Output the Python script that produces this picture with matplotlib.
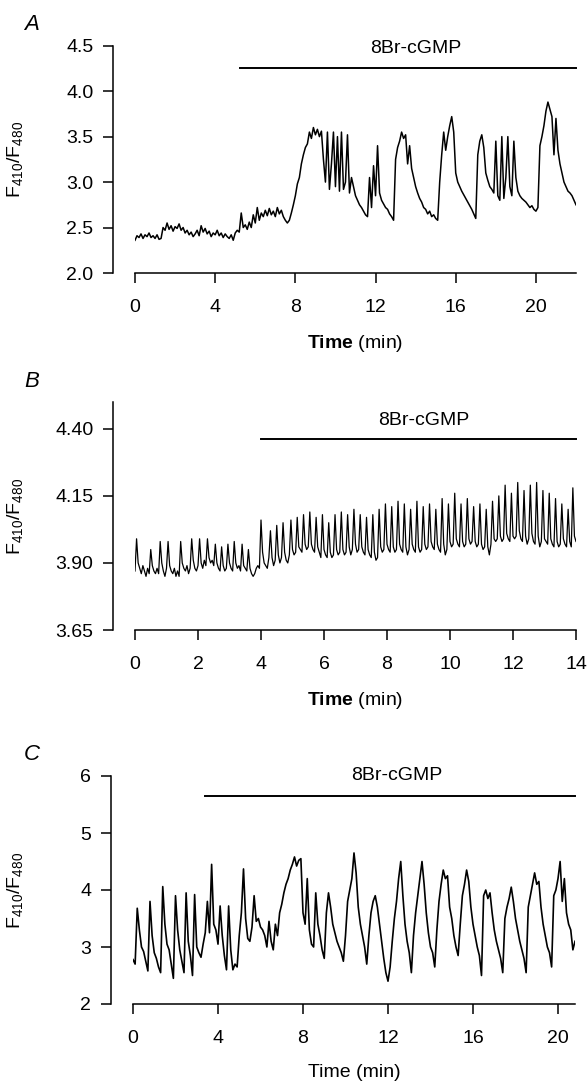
import numpy as np
import matplotlib
matplotlib.use("Agg")
import matplotlib.pyplot as plt

plt.rcParams['font.family'] = ['Liberation Sans', 'DejaVu Sans']
plt.rcParams['mathtext.fontset'] = 'custom'
plt.rcParams['mathtext.rm'] = 'Liberation Sans'
plt.rcParams['mathtext.bf'] = 'Liberation Sans:bold'
plt.rcParams['mathtext.it'] = 'Liberation Sans:italic'
plt.rcParams['mathtext.default'] = 'regular'

# Panel A: 8Br-cGMP, 0-22 min, one sample every 0.1 min
a_dt = 0.1
a_ratio = [
    2.36, 2.41, 2.39, 2.43, 2.38, 2.42, 2.40, 2.44, 2.39, 2.41, 2.38, 2.42, 2.37, 2.38,
    2.50, 2.47, 2.55, 2.48, 2.52, 2.46, 2.51, 2.49, 2.54, 2.47, 2.50, 2.44, 2.47, 2.42, 2.45, 2.40,
    2.43, 2.47, 2.41, 2.52, 2.45, 2.49, 2.43, 2.46, 2.40, 2.44, 2.42, 2.47, 2.41, 2.44, 2.39, 2.43, 2.40, 2.38, 2.42, 2.36,
    2.44, 2.47, 2.45, 2.66, 2.50, 2.53, 2.48, 2.56, 2.50, 2.64, 2.55, 2.72,
    2.58, 2.66, 2.62, 2.69, 2.63, 2.71, 2.64, 2.68, 2.62, 2.72, 2.65, 2.69, 2.62,
    2.58, 2.55, 2.58, 2.66, 2.75, 2.85, 2.98, 3.05, 3.20, 3.30, 3.38, 3.42, 3.55, 3.48, 3.60,
    3.52, 3.58, 3.50, 3.56, 3.25,
    3.00, 3.55, 2.92, 3.20, 3.55, 2.95, 3.50, 2.90, 3.55, 2.92, 3.00, 3.52, 2.88, 3.05, 2.95,
    2.85, 2.80, 2.75, 2.72, 2.68, 2.64, 2.62, 3.05, 2.72, 3.18, 2.85, 3.40, 2.88, 2.80, 2.76, 2.72, 2.70, 2.65, 2.62, 2.58,
    3.25, 3.38, 3.45, 3.55, 3.48, 3.52, 3.20, 3.40, 3.15, 3.05, 2.95, 2.88, 2.82, 2.78, 2.72, 2.70, 2.65, 2.68, 2.62, 2.64, 2.60, 2.58,
    3.00, 3.30, 3.55, 3.35, 3.50, 3.62, 3.72, 3.55, 3.10, 3.00, 2.95, 2.90, 2.86, 2.82, 2.78, 2.74, 2.70, 2.65, 2.60,
    3.30, 3.45, 3.52, 3.38, 3.10, 3.02, 2.95, 2.92, 2.88, 3.45, 2.85, 2.80, 3.50, 2.82, 3.05, 3.50, 2.95, 2.85, 3.45, 3.05,
    2.90, 2.85, 2.82, 2.80, 2.78, 2.75, 2.72, 2.74, 2.70,
    2.68, 2.72, 3.40, 3.50, 3.62, 3.78, 3.88, 3.80, 3.72, 3.30, 3.70, 3.35, 3.20, 3.10, 3.00, 2.95, 2.90, 2.88, 2.85, 2.80, 2.75,
]

# Panel B: 0-14 min, one sample every 0.05 min
b_dt = 0.05
b_ratio = [
    3.87, 3.99, 3.90, 3.88, 3.86, 3.89, 3.87,
    3.85, 3.88, 3.86, 3.95, 3.89, 3.87, 3.86,
    3.88, 3.86, 3.98, 3.90, 3.87, 3.85, 3.88,
    3.98, 3.89, 3.87, 3.86, 3.88, 3.85, 3.87,
    3.85, 3.98, 3.90, 3.88, 3.87, 3.89, 3.86,
    3.88, 3.99, 3.91, 3.88, 3.87, 3.89, 3.99,
    3.90, 3.88, 3.91, 3.89, 3.99, 3.92, 3.90,
    3.91, 3.89, 3.97, 3.90, 3.88, 3.87, 3.96,
    3.89, 3.87, 3.88, 3.97, 3.90, 3.88, 3.87,
    3.98, 3.90, 3.88, 3.89, 3.87, 3.97, 3.89,
    3.88, 3.87, 3.95, 3.88, 3.86, 3.85, 3.86,
    3.88, 3.89, 3.88, 4.06, 3.94, 3.90, 3.89,
    3.88, 3.92, 4.02, 3.92, 3.89,
    3.91, 4.04, 3.93, 3.90, 3.92,
    4.05, 3.94, 3.91, 3.90, 3.93,
    4.06, 3.95, 3.93, 3.94, 4.07,
    3.96, 3.95, 3.94, 4.08, 3.97,
    3.95, 3.96, 4.09, 3.97, 3.95,
    3.94, 4.07, 3.96, 3.94, 3.92,
    4.08, 3.95, 3.93, 3.92, 4.05,
    3.94, 3.92, 3.93, 4.08, 3.95,
    3.93, 3.94, 4.09, 3.95, 3.93,
    3.94, 4.08, 3.96, 3.93, 3.95,
    4.10, 3.97, 3.94, 3.95, 4.08,
    3.96, 3.94, 3.93, 4.07, 3.95,
    3.93, 3.92, 4.08, 3.94, 3.91,
    3.92, 4.10, 3.96, 3.94, 3.95,
    4.12, 3.97, 3.95, 3.94,
    4.11, 3.96, 3.94, 3.95,
    4.13, 3.97, 3.95, 3.94,
    4.12, 3.96, 3.93, 3.95,
    4.10, 3.97, 3.95, 3.94,
    4.13, 3.96, 3.94, 3.95,
    4.11, 3.97, 3.95, 3.96,
    4.12, 3.98, 3.96, 3.95,
    4.10, 3.97, 3.95, 3.94,
    4.14, 3.97, 3.93, 3.95,
    4.12, 3.98, 3.96, 3.97,
    4.16, 3.99, 3.97, 3.96,
    4.12, 3.98, 3.96, 3.97,
    4.14, 3.99, 3.97, 3.98,
    4.11, 3.98, 3.96, 3.97,
    4.12, 3.97, 3.95, 3.96,
    4.10, 3.96, 3.93, 3.97,
    4.13, 3.99, 3.98, 3.99,
    4.15, 4.00, 3.98, 3.99,
    4.19, 4.01, 3.99, 3.98,
    4.16, 4.00, 3.99, 4.00,
    4.20, 4.02, 3.99, 3.98,
    4.17, 4.00, 3.97, 3.99,
    4.19, 4.01, 3.98, 3.97,
    4.20, 4.00, 3.96, 3.98,
    4.17, 3.99, 3.98, 3.97,
    4.16, 3.99, 3.97, 3.96,
    4.14, 3.98, 3.96, 3.97,
    4.12, 3.99, 3.97, 3.96,
    4.10, 3.98, 3.96, 4.18,
    4.00, 3.98,
]

# Panel C: 0-20.8 min, one sample every 0.1 min
c_dt = 0.1
c_ratio = [
    2.78, 2.70, 3.68, 3.30, 3.00, 2.92, 2.75, 2.58, 3.80, 3.20,
    2.90, 2.80, 2.65, 2.55, 4.06, 3.40, 3.05, 2.95, 2.70, 2.45,
    3.90, 3.30, 2.95, 2.75, 2.55, 3.95, 3.10, 2.85, 2.50, 3.92,
    3.00, 2.90, 2.82, 3.05, 3.25, 3.80, 3.25, 4.45, 3.40, 3.30,
    3.05, 3.72, 3.20, 2.85, 2.60, 3.72, 2.95, 2.60, 2.70, 2.65,
    3.20, 3.60, 4.37, 3.50, 3.15, 3.10, 3.35, 3.90, 3.45, 3.50,
    3.35, 3.30, 3.20, 3.00, 3.45, 3.10, 2.95, 3.40, 3.20, 3.60,
    3.75, 3.95, 4.10, 4.20, 4.35, 4.45, 4.58, 4.42, 4.52, 4.55,
    3.60, 3.40, 4.20, 3.30, 3.05, 3.00, 3.95, 3.40, 3.20, 2.95,
    2.80, 3.60, 3.95, 3.70, 3.40, 3.25, 3.10, 3.00, 2.90, 2.75,
    3.20, 3.80, 4.00, 4.20, 4.65, 4.30, 3.70, 3.40, 3.20, 3.00,
    2.70, 3.20, 3.60, 3.80, 3.90, 3.70, 3.40, 3.10, 2.80, 2.55,
    2.40, 2.65, 3.10, 3.50, 3.80, 4.20, 4.50, 3.90, 3.40, 3.10,
    2.90, 2.55, 3.20, 3.60, 3.90, 4.20, 4.50, 4.10, 3.60, 3.25,
    3.00, 2.90, 2.65, 3.30, 3.80, 4.10, 4.35, 4.20, 4.25, 3.70,
    3.50, 3.20, 3.00, 2.85, 3.40, 3.90, 4.10, 4.35, 4.15, 3.70,
    3.40, 3.20, 3.00, 2.85, 2.50, 3.90, 4.00, 3.85, 3.95, 3.60,
    3.30, 3.10, 2.95, 2.80, 2.55, 3.50, 3.70, 3.85, 4.05, 3.80,
    3.50, 3.30, 3.10, 2.95, 2.80, 2.55, 3.70, 3.90, 4.10, 4.30,
    4.10, 4.15, 3.70, 3.40, 3.20, 3.00, 2.90, 2.65, 3.90, 4.00,
    4.20, 4.50, 3.80, 4.20, 3.60, 3.40, 3.30, 2.95, 3.10,
]

panels = [
    dict(letter="A", dt=a_dt, ratio=a_ratio, xlim=(0, 22), ylim=(2.0, 4.5),
         xticks=[0, 4, 8, 12, 16, 20], yticks=[2.0, 2.5, 3.0, 3.5, 4.0, 4.5], yfmt="{:.1f}",
         bar=(5.23, 22.0, 4.255), label_xy=(14.0, 4.47), box=(135, 576, 45.7, 273),
         bold=True, lw=1.1),
    dict(letter="B", dt=b_dt, ratio=b_ratio, xlim=(0, 14), ylim=(3.65, 4.50),
         xticks=[0, 2, 4, 6, 8, 10, 12, 14], yticks=[3.65, 3.90, 4.15, 4.40], yfmt="{:.2f}",
         bar=(4.0, 14.0, 4.363), label_xy=(9.17, 4.43), box=(135, 576, 402, 630),
         bold=True, lw=0.9),
    dict(letter="C", dt=c_dt, ratio=c_ratio, xlim=(0, 20.8), ylim=(2, 6),
         xticks=[0, 4, 8, 12, 16, 20], yticks=[2, 3, 4, 5, 6], yfmt="{:.0f}",
         bar=(3.38, 20.8, 5.65), label_xy=(12.4, 6.0), box=(133, 575, 776, 1004),
         bold=False, lw=1.2),
]

W, H = 588, 1085
fig = plt.figure(figsize=(W / 100, H / 100), dpi=100)
fs = 14

for p in panels:
    x0, x1, ytop, ybot = p["box"]
    ax = fig.add_axes([x0 / W, 1 - ybot / H, (x1 - x0) / W, (ybot - ytop) / H])
    t = np.arange(len(p["ratio"])) * p["dt"]
    ax.plot(t, p["ratio"], color="black", lw=p["lw"])
    ax.set_xlim(*p["xlim"])
    ax.set_ylim(*p["ylim"])

    ax.spines["top"].set_visible(False)
    ax.spines["right"].set_visible(False)
    ax.spines["left"].set_position(("outward", 16))
    ax.spines["left"].set_linewidth(1.1)
    ax.spines["bottom"].set_linewidth(1.1)
    ax.spines["bottom"].set_bounds(*p["xlim"])

    ax.set_xticks(p["xticks"])
    ax.set_yticks(p["yticks"])
    ax.set_yticklabels([p["yfmt"].format(v) for v in p["yticks"]])
    ax.tick_params(axis="x", length=7, width=1.1, pad=12, labelsize=fs)
    ax.tick_params(axis="y", length=7, width=1.1, pad=7, labelsize=fs)

    # drug application bar
    b0, b1, by = p["bar"]
    ax.plot([b0, b1], [by, by], color="black", lw=1.4, clip_on=False)
    ax.text(p["label_xy"][0], p["label_xy"][1], "8Br-cGMP", ha="center", va="center",
            fontsize=fs)

    if p["bold"]:
        ax.set_xlabel(r"$\mathbf{Time}$ (min)", fontsize=fs, labelpad=12)
    else:
        ax.set_xlabel("Time (min)", fontsize=fs, labelpad=12)
    ax.set_ylabel(r"F$_{410}$/F$_{480}$", fontsize=fs)
    ax.yaxis.set_label_coords(-(x0 - 25) / (x1 - x0), 0.5)

    fig.text(32 / W, 1 - (ytop - 21) / H, p["letter"], fontsize=fs + 2,
             style="italic", ha="center", va="center")

fig.savefig("out.png", dpi=100)
